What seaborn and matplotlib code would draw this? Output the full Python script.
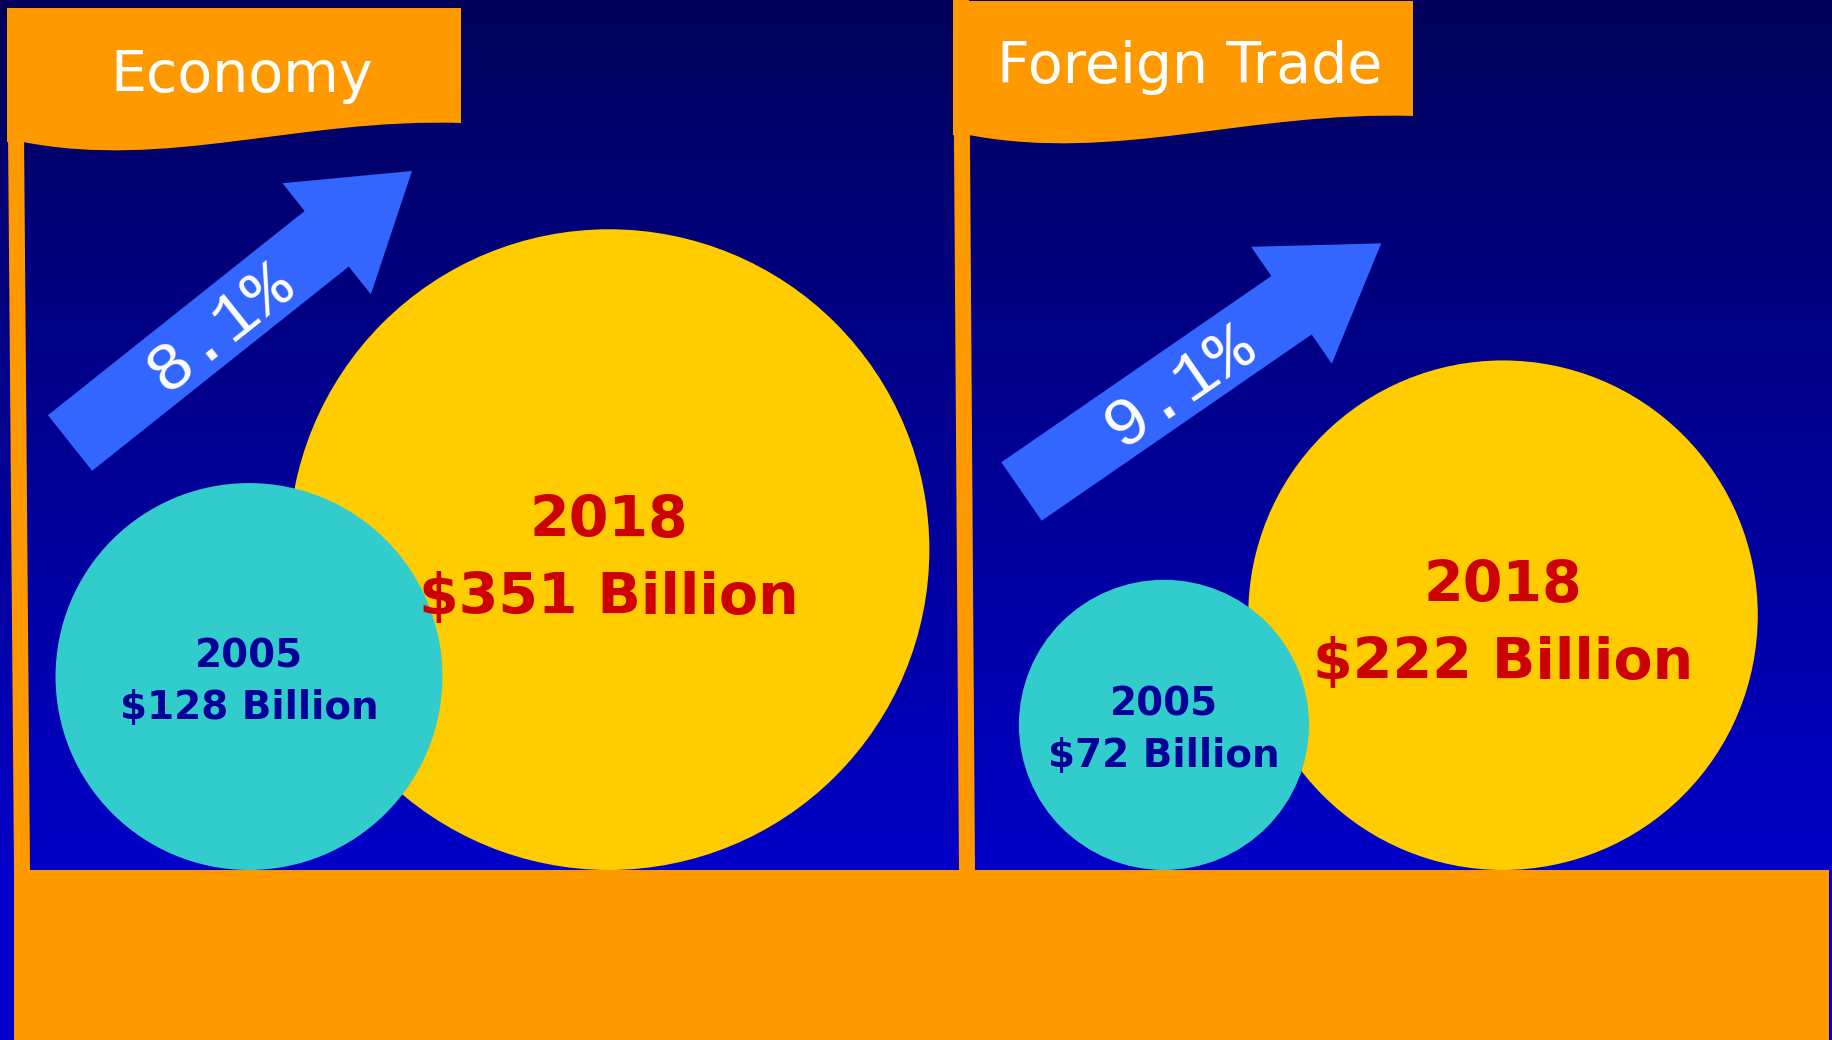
import numpy as np
import pandas as pd
import seaborn as sns
import matplotlib
matplotlib.use("Agg")
import matplotlib.pyplot as plt
from matplotlib.colors import LinearSegmentedColormap
from matplotlib.patches import Polygon, Rectangle, PathPatch, FancyArrow
from matplotlib.path import Path

# Datos del gráfico
panels = ["Economy", "Foreign Trade"]
years = ["2018", "2005"]
economy_values = [351, 128]
trade_values = [222, 72]
growth_labels = ["8.1%", "9.1%"]

sns.set_theme(style="white")
plt.rcParams["font.family"] = ["DejaVu Sans"]

W, H = 1833, 1040
GROUND = 870
K = 17.1  # radio del círculo = K * sqrt(valor)

fig = plt.figure(figsize=(W / 100, H / 100), dpi=100)
ax = fig.add_axes([0, 0, 1, 1])

# fondo degradado azul
grad = np.linspace(0, 1, 256).reshape(-1, 1)
bg = LinearSegmentedColormap.from_list("bg", ["#00005a", "#0000c8"])
ax.imshow(grad, extent=[0, W, GROUND, 0], cmap=bg, aspect="auto", zorder=0)
ax.add_patch(Rectangle((0, GROUND), W, H - GROUND, color="#0000c8", zorder=0))

ORANGE = "#ff9900"


def draw_flag(pole, left, right, top, y_right, y_left, title, title_x, title_y):
    # mástil
    ax.add_patch(Polygon(pole, closed=True, color=ORANGE, lw=0, zorder=2))
    w = right - left
    verts = [(pole[0][0], top), (right, top), (right, y_right),
             (right - 0.37 * w, y_right - 5), (left + 0.33 * w, y_left + 28), (left, y_left),
             (pole[0][0], y_left), (pole[0][0], top)]
    codes = [Path.MOVETO, Path.LINETO, Path.LINETO,
             Path.CURVE4, Path.CURVE4, Path.CURVE4,
             Path.LINETO, Path.CLOSEPOLY]
    ax.add_patch(PathPatch(Path(verts, codes), color=ORANGE, lw=0, zorder=2))
    ax.text(title_x, title_y, title, color="white", fontsize=41,
            ha="center", va="baseline", zorder=6)


draw_flag([(7, 8), (23, 8), (30, GROUND), (14, GROUND)], 23, 461, 8, 123, 142,
          panels[0], 242, 92)
draw_flag([(953, 0), (969, 0), (975, GROUND), (959, GROUND)], 969, 1413, 1, 116, 135,
          panels[1], 1190, 83)

# círculos (área proporcional al valor)
df = pd.DataFrame({
    "panel": [panels[0], panels[0], panels[1], panels[1]],
    "year": years + years,
    "value": economy_values + trade_values,
})
centers_x = {(panels[0], "2018"): 609, (panels[0], "2005"): 249,
             (panels[1], "2018"): 1503, (panels[1], "2005"): 1164}
df["r"] = K * np.sqrt(df["value"])
df["cx"] = [centers_x[(p, y)] for p, y in zip(df["panel"], df["year"])]
df["cy"] = GROUND - df["r"]
df["s"] = (2 * df["r"] * 0.72) ** 2

sns.scatterplot(data=df, x="cx", y="cy", hue="year",
                palette={"2018": "#ffcc00", "2005": "#33cccc"},
                s=df["s"].to_numpy(), linewidth=0, legend=False, ax=ax, zorder=3)

style = {"2018": dict(size=41, color="#cc0000", off=(-13, 64)),
         "2005": dict(size=28, color="#000099", off=(-9, 42))}
for _, row in df.iterrows():
    st = style[row["year"]]
    ax.text(row["cx"], row["cy"] + st["off"][0], row["year"], fontsize=st["size"],
            fontweight="bold", color=st["color"], ha="center", va="baseline", zorder=4)
    ax.text(row["cx"], row["cy"] + st["off"][1], f"${row['value']} Billion",
            fontsize=st["size"], fontweight="bold", color=st["color"],
            ha="center", va="baseline", zorder=4)

# flechas de crecimiento
arrows = [((70, 443), 38.5), ((1021.5, 491.5), 34.6)]
L = 437
for ((x0, y0), ang), lab in zip(arrows, growth_labels):
    ux, uy = np.cos(np.radians(ang)), -np.sin(np.radians(ang))
    ax.add_patch(FancyArrow(x0, y0, L * ux, L * uy, width=71, head_width=142,
                            head_length=109, length_includes_head=True,
                            color="#3366ff", lw=0, zorder=4))
    px, py = -uy, ux  # perpendicular (hacia abajo en pantalla)
    tx, ty = x0 + 189 * ux + 4 * px, y0 + 189 * uy + 4 * py
    ax.text(tx, ty, lab, fontsize=50, family=["Liberation Mono", "DejaVu Sans Mono"],
            color="white", rotation=ang, rotation_mode="anchor",
            ha="center", va="center", zorder=5)

# suelo naranja
ax.add_patch(Rectangle((14, GROUND), 1829 - 14, H - GROUND, color=ORANGE, lw=0, zorder=5))

ax.set_xlim(0, W)
ax.set_ylim(H, 0)
ax.axis("off")

fig.savefig("out.png", dpi=100)
